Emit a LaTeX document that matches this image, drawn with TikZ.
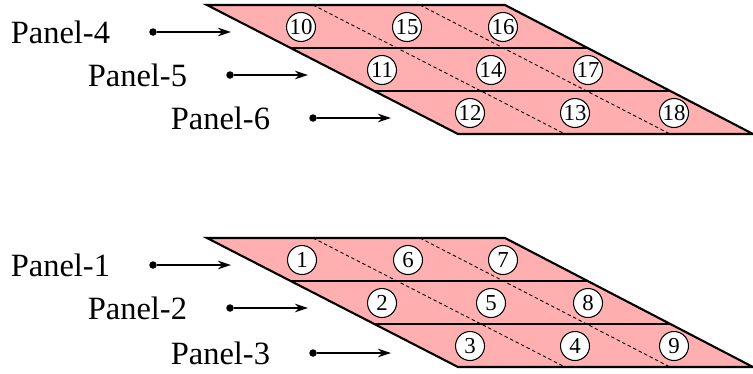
\documentclass[tikz,border=0pt]{standalone}
\usepackage{fontspec}
\setmainfont{Liberation Serif}
\newfontfamily\timesfont{Liberation Serif}
\usepackage{tikz}
\usetikzlibrary{arrows.meta, positioning}
\definecolor{panelpink}{RGB}{255,175,175}
\definecolor{mydark}{RGB}{0,0,0}
\tikzset{
  panel/.style={draw=mydark, fill=panelpink, line width=1.2pt, line join=miter},
  split/.style={draw=mydark, line width=1.2pt},
  seam/.style={draw=mydark, dashed, dash pattern=on 2pt off 1.5pt, line width=0.5pt},
  cell/.style={circle, draw=mydark, fill=white, minimum size=0.58cm, inner sep=0pt,
    line width=0.6pt, font=\timesfont\fontsize{13}{14}\selectfont},
  dot/.style={circle, fill=mydark, minimum size=0.15cm, inner sep=0pt},
  tag/.style={font=\timesfont\fontsize{18.5}{21}\selectfont, inner sep=2pt},
  arrow/.style={-{Stealth[length=2.6mm, width=1.7mm]}, line width=0.8pt, color=mydark}
}

\begin{document}
\begin{tikzpicture}[x=0.02cm, y=-0.02cm]
  \useasboundingbox (0,0) rectangle (753,373);

  % Upper panel group (4-6)
  \draw[panel] (207,5) -- (505,5) -- (753,134) -- (458,134) -- cycle;
  \draw[split] (291,48) -- (588,48);
  \draw[split] (374,91) -- (670,91);
  \draw[seam] (313,5) -- (565,134);
  \draw[seam] (420,5) -- (670,134);

  \node[cell] (c10) at (301,27) {10};
  \node[cell] (c15) at (407,27) {15};
  \node[cell] (c16) at (503,27) {16};
  \node[cell] (c11) at (382,70) {11};
  \node[cell] (c14) at (491,70) {14};
  \node[cell] (c17) at (588,70) {17};
  \node[cell] (c12) at (470,113) {12};
  \node[cell] (c13) at (575,113) {13};
  \node[cell] (c18) at (674,113) {18};

  % Upper labels
  \node[dot] (d4) at (153,32) {};
  \node[dot] (d5) at (230,75) {};
  \node[dot] (d6) at (313,118) {};
  \coordinate (t4) at (231,32);
  \coordinate (t5) at (308,75);
  \coordinate (t6) at (391,118);
  \draw[arrow] (d4) -- (t4);
  \draw[arrow] (d5) -- (t5);
  \draw[arrow] (d6) -- (t6);
  \node[tag] (p4) [left=0.7cm of d4] {Panel-4};
  \node[tag] (p5) [left=0.7cm of d5] {Panel-5};
  \node[tag] (p6) [left=0.7cm of d6] {Panel-6};

  % Lower panel group (1-3)
  \draw[panel] (207,238) -- (505,238) -- (753,367) -- (458,367) -- cycle;
  \draw[split] (291,281) -- (588,281);
  \draw[split] (374,324) -- (670,324);
  \draw[seam] (313,238) -- (565,367);
  \draw[seam] (420,238) -- (670,367);

  \node[cell] (c1) at (302,260) {1};
  \node[cell] (c6) at (408,260) {6};
  \node[cell] (c7) at (503,260) {7};
  \node[cell] (c2) at (382,303) {2};
  \node[cell] (c5) at (491,303) {5};
  \node[cell] (c8) at (588,303) {8};
  \node[cell] (c3) at (470,346) {3};
  \node[cell] (c4) at (575,346) {4};
  \node[cell] (c9) at (674,346) {9};

  % Lower labels
  \node[dot] (d1) at (153,265) {};
  \node[dot] (d2) at (230,308) {};
  \node[dot] (d3) at (313,353) {};
  \coordinate (t1) at (231,265);
  \coordinate (t2) at (308,308);
  \coordinate (t3) at (391,353);
  \draw[arrow] (d1) -- (t1);
  \draw[arrow] (d2) -- (t2);
  \draw[arrow] (d3) -- (t3);
  \node[tag] (p1) [left=0.7cm of d1] {Panel-1};
  \node[tag] (p2) [left=0.7cm of d2] {Panel-2};
  \node[tag] (p3) [left=0.7cm of d3] {Panel-3};
\end{tikzpicture}
\end{document}
